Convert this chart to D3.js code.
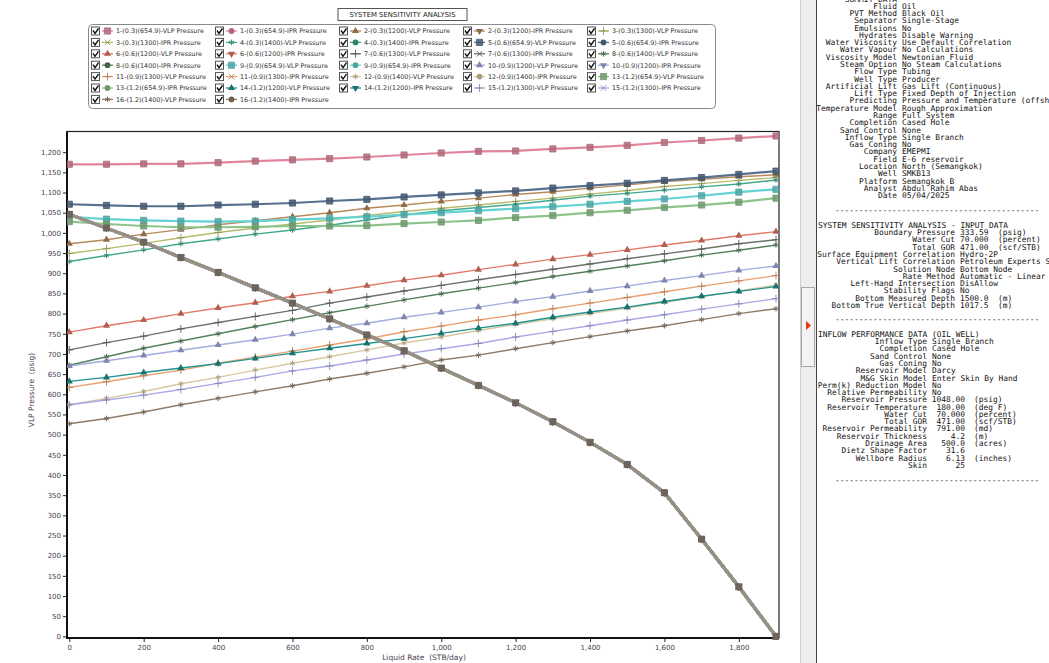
<!DOCTYPE html>
<html>
<head>
<meta charset="utf-8">
<script src="https://cdn.jsdelivr.net/npm/d3@7"></script>
<style>
body { margin: 0; background: #fff; overflow: hidden; }
svg { display: block; }
text { font-family: "DejaVu Sans", Verdana, sans-serif; }
.mono { font-family: "DejaVu Sans Mono", monospace; font-size: 7.9px; fill: #111; white-space: pre; }
</style>
</head>
<body>
<div id="chart"></div>
<script>
'use strict';

// liquid rate (STB/day) - x values of every curve
var liquidRate = [0, 100, 200, 300, 400, 500, 600, 700, 800, 900, 1000, 1100, 1200, 1300, 1400, 1500, 1600, 1700, 1800, 1900];

// IPR pressure (psig), same for every case
var iprPressure = [1046, 1012, 977, 939, 902, 864, 826, 787, 747, 708, 665, 622, 579, 532, 481, 426, 356, 241, 123, 0];

// VLP pressure (psig) per case
var vlp1  = [1170, 1170, 1171, 1171, 1174, 1178, 1181, 1184, 1188, 1193, 1198, 1202, 1203, 1208, 1212, 1217, 1224, 1229, 1235, 1240];
var vlp2  = [973, 983, 997, 1008, 1020, 1030, 1040, 1050, 1061, 1069, 1078, 1086, 1095, 1102, 1111, 1119, 1127, 1133, 1139, 1144];
var vlp3  = [949, 961, 974, 988, 1001, 1012, 1022, 1032, 1043, 1053, 1061, 1069, 1078, 1086, 1096, 1105, 1115, 1122, 1130, 1137];
var vlp4  = [929, 944, 958, 973, 985, 997, 1007, 1019, 1032, 1045, 1055, 1063, 1071, 1081, 1091, 1098, 1106, 1114, 1121, 1131];
var vlp5  = [1071, 1068, 1066, 1066, 1069, 1071, 1074, 1079, 1083, 1089, 1094, 1099, 1104, 1111, 1117, 1123, 1130, 1137, 1145, 1153];
var vlp6  = [754, 770, 784, 800, 814, 827, 843, 855, 869, 883, 895, 909, 922, 935, 946, 958, 970, 981, 993, 1003];
var vlp7  = [710, 728, 744, 762, 778, 793, 808, 826, 841, 856, 870, 884, 897, 910, 923, 936, 948, 960, 973, 983];
var vlp8  = [672, 693, 714, 732, 750, 768, 785, 802, 818, 834, 849, 863, 877, 892, 905, 918, 931, 945, 957, 970];
var vlp9  = [1040, 1034, 1031, 1029, 1028, 1029, 1033, 1036, 1040, 1045, 1050, 1055, 1060, 1065, 1071, 1078, 1084, 1092, 1101, 1108];
var vlp10 = [670, 683, 696, 709, 722, 735, 749, 764, 776, 791, 803, 816, 830, 842, 856, 868, 882, 894, 907, 918];
var vlp11 = [617, 631, 646, 660, 677, 692, 707, 722, 737, 755, 769, 784, 797, 812, 826, 840, 854, 868, 881, 894];
var vlp12 = [574, 590, 607, 626, 642, 660, 677, 693, 710, 727, 742, 758, 773, 787, 800, 814, 828, 842, 856, 871];
var vlp13 = [1028, 1022, 1017, 1014, 1014, 1015, 1017, 1017, 1018, 1023, 1027, 1031, 1038, 1043, 1050, 1056, 1063, 1069, 1076, 1086];
var vlp14 = [632, 642, 654, 665, 676, 689, 702, 714, 726, 738, 751, 764, 776, 791, 804, 816, 830, 843, 855, 867];
var vlp15 = [574, 586, 598, 612, 627, 642, 658, 670, 685, 700, 713, 726, 742, 756, 770, 784, 797, 811, 824, 837];
var vlp16 = [527, 540, 556, 574, 590, 606, 621, 638, 652, 668, 685, 697, 713, 728, 743, 757, 770, 785, 800, 812];

var vlpSeries = [vlp1, vlp2, vlp3, vlp4, vlp5, vlp6, vlp7, vlp8, vlp9, vlp10, vlp11, vlp12, vlp13, vlp14, vlp15, vlp16];

// sensitivity variables of the 16 cases
var firstVariable  = ['0.3', '0.6', '0.9', '1.2'];
var secondVariable = ['654.9', '1200', '1300', '1400'];

var seriesColors = ['#e0859c', '#b8895a', '#b8bc6a', '#3fa88e', '#56708e', '#e27a68', '#6a7468', '#55805c',
                    '#62d2d2', '#a4acde', '#eba070', '#d8c8a0', '#8cc48c', '#22928f', '#aaaae6', '#8f7a66'];

var xTickValues = [0, 200, 400, 600, 800, 1000, 1200, 1400, 1600, 1800];
var yTickValues = [0, 50, 100, 150, 200, 250, 300, 350, 400, 450, 500, 550, 600, 650, 700, 750, 800, 850, 900, 950,
                   1000, 1050, 1100, 1150, 1200];

// right hand report panel
var summitRows = [
    ['Fluid', 'Oil'], ['PVT Method', 'Black Oil'], ['Separator', 'Single-Stage'], ['Emulsions', 'No'],
    ['Hydrates', 'Disable Warning'], ['Water Viscosity', 'Use Default Correlation'], ['Water Vapour', 'No Calculations'],
    ['Viscosity Model', 'Newtonian Fluid'], ['Steam Option', 'No Steam Calculations'], ['Flow Type', 'Tubing'],
    ['Well Type', 'Producer'], ['Artificial Lift', 'Gas Lift (Continuous)'], ['Lift Type', 'Fixed Depth of Injection'],
    ['Predicting', 'Pressure and Temperature (offsh'], ['Temperature Model', 'Rough Approximation'],
    ['Range', 'Full System'], ['Completion', 'Cased Hole'], ['Sand Control', 'None'], ['Inflow Type', 'Single Branch'],
    ['Gas Coning', 'No'], ['Company', 'EMEPMI'], ['Field', 'E-6 reservoir'], ['Location', 'North (Semangkok)'],
    ['Well', 'SMKB13'], ['Platform', 'Semangkok B'], ['Analyst', 'Abdul Rahim Abas'], ['Date', '05/04/2025']
];
var inputRows = [
    ['Boundary Pressure', '333.59', '(psig)'], ['Water Cut', '70.000', '(percent)'], ['Total GOR', '471.00', '(scf/STB)'],
    ['Surface Equipment Correlation', 'Hydro-2P', ''], ['Vertical Lift Correlation', 'Petroleum Experts S', ''],
    ['Solution Node', 'Bottom Node', ''], ['Rate Method', 'Automatic - Linear', ''],
    ['Left-Hand Intersection', 'DisAllow', ''], ['Stability Flags', 'No', ''],
    ['Bottom Measured Depth', '1500.0', '(m)'], ['Bottom True Vertical Depth', '1017.5', '(m)']
];
var inflowRows = [
    ['Inflow Type', 'Single Branch', ''], ['Completion', 'Cased Hole', ''], ['Sand Control', 'None', ''],
    ['Gas Coning', 'No', ''], ['Reservoir Model', 'Darcy', ''], ['M&G Skin Model', 'Enter Skin By Hand', ''],
    ['Perm(k) Reduction Model', 'No', ''], ['Relative Permeability', 'No', ''],
    ['Reservoir Pressure', '1048.00', '(psig)'], ['Reservoir Temperature', '180.00', '(deg F)'],
    ['Water Cut', '70.000', '(percent)'], ['Total GOR', '471.00', '(scf/STB)'],
    ['Reservoir Permeability', '791.00', '(md)'], ['Reservoir Thickness', '4.2', '(m)'],
    ['Drainage Area', '500.0', '(acres)'], ['Dietz Shape Factor', '31.6', ''],
    ['Wellbore Radius', '6.13', '(inches)'], ['Skin', '25', '']
];

function sensitivityChart()
{
    var scope = this;
    var exports = {};

    scope.width  = 1049;
    scope.height = 663;
    scope.frame  = {left: 67, top: 131.5, right: 779, bottom: 638};

    scope.xScale = d3.scaleLinear().domain([0, 1900]).range([69.3, 776]);
    scope.yScale = d3.scaleLinear().domain([0, 1250]).range([636.4, 132]);

    scope.vlpShapes = ['square', 'triangle', 'plus', 'asterisk'];
    scope.iprShapes = ['circle', 'triangleDown', 'times', 'circle'];

    scope.cases = [];

    scope.buildCases = function()
    {
        for (var i = 0; i < vlpSeries.length; i++) {
            var a = firstVariable[Math.floor(i / 4)];
            var b = secondVariable[i % 4];
            scope.cases.push({
                id: i + 1,
                name: (i + 1) + '-(' + a + ')(' + b + ')',
                color: seriesColors[i],
                vlp: vlpSeries[i],
                vlpShape: scope.vlpShapes[i % 4],
                iprShape: scope.iprShapes[i % 4],
                thick: (i % 4) == 0
            });
        }
    }

    scope.drawMarker = function(g, shape, x, y, color)
    {
        var dark = d3.color(color).darker(0.7).formatHex();
        var p;
        if (shape == 'square') {
            p = g.append('path').attr('d', d3.symbol(d3.symbolSquare, 38)())
                .style('fill', dark).style('fill-opacity', 0.85).style('stroke', dark).style('stroke-width', 0.8);
        } else if (shape == 'triangle' || shape == 'triangleDown') {
            p = g.append('path').attr('d', d3.symbol(d3.symbolTriangle, 22)())
                .style('fill', dark).style('stroke', 'none');
        } else if (shape == 'circle') {
            p = g.append('path').attr('d', d3.symbol(d3.symbolCircle, 26)())
                .style('fill', dark).style('stroke', 'none');
        } else {
            var sym = shape == 'plus' ? d3.symbolPlus : (shape == 'times' ? d3.symbolTimes : d3.symbolAsterisk);
            p = g.append('path').attr('d', d3.symbol(sym, 22)())
                .style('fill', 'none').style('stroke', dark).style('stroke-width', 0.9);
        }
        var t = 'translate(' + x + ',' + y + ')';
        if (shape == 'triangleDown') t += ' rotate(180)';
        p.attr('transform', t);
    }

    scope.appendSvg = function(div)
    {
        return d3.select(div).append('svg')
            .attr('width', scope.width)
            .attr('height', scope.height)
            .style('background', '#fff');
    }

    scope.drawTitle = function(svg)
    {
        svg.append('rect').attr('x', 338).attr('y', 8.5).attr('width', 129).attr('height', 12)
            .style('fill', '#fff').style('stroke', '#555').style('stroke-width', 1);
        svg.append('text').attr('x', 402.5).attr('y', 17.2)
            .style('font-size', '6.9px').style('fill', '#222').style('text-anchor', 'middle')
            .text('SYSTEM SENSITIVITY ANALYSIS');
    }

    scope.drawLegend = function(svg)
    {
        svg.append('rect').attr('x', 88.5).attr('y', 24.5).attr('width', 627).attr('height', 84).attr('rx', 4)
            .style('fill', '#fff').style('stroke', '#8a8a8a').style('stroke-width', 1);

        var entries = [];
        scope.cases.forEach(function(c) {
            entries.push({c: c, label: c.name + '-VLP Pressure', shape: c.vlpShape});
            entries.push({c: c, label: c.name + '-IPR Pressure', shape: c.iprShape});
        });

        entries.forEach(function(e, k) {
            var x = 91 + (k % 5) * 124;
            var y = 31 + Math.floor(k / 5) * 11.4;
            var g = svg.append('g');
            g.append('rect').attr('x', x + 0.5).attr('y', y - 4).attr('width', 8).attr('height', 8)
                .style('fill', '#fff').style('stroke', '#555').style('stroke-width', 1);
            g.append('path').attr('d', 'M' + (x + 2) + ',' + (y - 0.5) + ' L' + (x + 4) + ',' + (y + 2.5) + ' L' + (x + 7.5) + ',' + (y - 2.5))
                .style('fill', 'none').style('stroke', '#111').style('stroke-width', 1.4);
            g.append('line').attr('x1', x + 11).attr('x2', x + 22).attr('y1', y).attr('y2', y)
                .style('stroke', e.c.color).style('stroke-width', 1.3);
            scope.drawMarker(g, e.shape, x + 16.5, y, e.c.color);
            g.append('text').attr('x', x + 25).attr('y', y + 2.3)
                .style('font-size', '6.4px').style('fill', '#333').text(e.label);
        });
    }

    scope.drawAxes = function(svg)
    {
        var f = scope.frame;
        svg.append('rect').attr('x', f.left).attr('y', f.top)
            .attr('width', f.right - f.left).attr('height', f.bottom - f.top)
            .style('fill', '#fff').style('stroke', '#222').style('stroke-width', 1.2);

        var yAxis = d3.axisLeft(scope.yScale).tickValues(yTickValues).tickFormat(d3.format(','))
            .tickSize(4).tickPadding(2).tickSizeOuter(0);
        var yg = svg.append('g').attr('transform', 'translate(' + f.left + ',0)').call(yAxis);

        var xAxis = d3.axisBottom(scope.xScale).tickValues(xTickValues).tickFormat(d3.format(','))
            .tickSize(4).tickPadding(3).tickSizeOuter(0);
        var xg = svg.append('g').attr('transform', 'translate(0,' + f.bottom + ')').call(xAxis);

        [xg, yg].forEach(function(g) {
            g.select('.domain').remove();
            g.selectAll('.tick line').style('stroke', '#222');
            g.selectAll('.tick text').style('font-size', '7px').style('fill', '#4a4050')
                .style('font-family', '"DejaVu Sans", Verdana, sans-serif');
        });

        svg.append('line').attr('x1', f.left).attr('x2', f.left).attr('y1', f.top).attr('y2', f.bottom + 1)
            .style('stroke', '#111').style('stroke-width', 2);
        svg.append('line').attr('x1', f.left - 1).attr('x2', f.right).attr('y1', f.bottom).attr('y2', f.bottom)
            .style('stroke', '#111').style('stroke-width', 2);

        svg.append('text')
            .attr('transform', 'translate(34,390) rotate(-90)')
            .style('font-size', '7.5px').style('fill', '#4a4050').style('text-anchor', 'middle')
            .style('white-space', 'pre')
            .text('VLP Pressure  (psig)');

        svg.append('text').attr('x', 424).attr('y', 659.5)
            .style('font-size', '7.5px').style('fill', '#4a4050').style('text-anchor', 'middle')
            .style('white-space', 'pre')
            .text('Liquid Rate  (STB/day)');
    }

    scope.drawCurves = function(svg)
    {
        var f = scope.frame;
        svg.append('clipPath').attr('id', 'plotClip').append('rect')
            .attr('x', f.left).attr('y', f.top).attr('width', f.right - f.left).attr('height', f.bottom - f.top + 2);

        var plot = svg.append('g').attr('clip-path', 'url(#plotClip)');
        var line = d3.line()
            .x(function(d, i) { return scope.xScale(liquidRate[i]); })
            .y(function(d) { return scope.yScale(d); });

        scope.cases.forEach(function(c) {
            // VLP curve
            plot.append('path').datum(c.vlp).attr('d', line)
                .style('fill', 'none').style('stroke', c.color).style('stroke-width', c.thick ? 2.2 : 1.4);
            var mg = plot.append('g');
            c.vlp.forEach(function(v, i) {
                scope.drawMarker(mg, c.vlpShape, scope.xScale(liquidRate[i]), scope.yScale(v), c.color);
            });

            // IPR curve (identical for every case, drawn on top of each other)
            plot.append('path').datum(iprPressure).attr('d', line)
                .style('fill', 'none').style('stroke', c.id == 16 ? '#9c8e7e' : c.color).style('stroke-width', 3);
            var ig = plot.append('g');
            iprPressure.forEach(function(v, i) {
                scope.drawMarker(ig, c.iprShape, scope.xScale(liquidRate[i]), scope.yScale(v), '#8a8078');
            });
        });

        // square markers on the IPR as they appear after overlaying all cases
        var top = plot.append('g');
        iprPressure.forEach(function(v, i) {
            scope.drawMarker(top, 'square', scope.xScale(liquidRate[i]), scope.yScale(v), '#8a8078');
        });
    }

    scope.drawReport = function(svg)
    {
        // splitter between chart and report
        svg.append('rect').attr('x', 800).attr('y', 0).attr('width', 16).attr('height', scope.height)
            .style('fill', '#ededed');
        svg.append('line').attr('x1', 800.5).attr('x2', 800.5).attr('y1', 0).attr('y2', scope.height)
            .style('stroke', '#cfcfcf');
        svg.append('rect').attr('x', 801.5).attr('y', 287.5).attr('width', 13).attr('height', 79)
            .style('fill', '#f3f3f3').style('stroke', '#a8a8a8');
        svg.append('path').attr('d', 'M806,321 L811,325.5 L806,330 Z').style('fill', '#e4380f');
        svg.append('rect').attr('x', 817).attr('y', 0).attr('width', 232).attr('height', scope.height)
            .style('fill', '#fff');
        svg.append('line').attr('x1', 816.5).attr('x2', 816.5).attr('y1', 0).attr('y2', scope.height)
            .style('stroke', '#444').style('stroke-width', 1);

        var rep = svg.append('g');
        var lh = 7.28;
        var dashes = '-------------------------------------------';

        rep.append('text').attr('class', 'mono').attr('x', 897).attr('y', 1.5).style('text-anchor', 'end').text('SUMMIT DATA');

        summitRows.forEach(function(r, i) {
            var y = 8.8 + i * lh;
            rep.append('text').attr('class', 'mono').attr('x', 897).attr('y', y).style('text-anchor', 'end').text(r[0]);
            rep.append('text').attr('class', 'mono').attr('x', 902).attr('y', y).text(r[1]);
        });
        rep.append('text').attr('class', 'mono').attr('x', 835).attr('y', 213).text(dashes);

        rep.append('text').attr('class', 'mono').attr('x', 818).attr('y', 227.8).text('SYSTEM SENSITIVITY ANALYSIS - INPUT DATA');
        inputRows.forEach(function(r, i) {
            var y = 235.1 + i * lh;
            rep.append('text').attr('class', 'mono').attr('x', 955).attr('y', y).style('text-anchor', 'end').text(r[0]);
            rep.append('text').attr('class', 'mono').attr('x', 960).attr('y', y).text(r[1]);
            if (r[2]) rep.append('text').attr('class', 'mono').attr('x', 998).attr('y', y).text(r[2]);
        });
        rep.append('text').attr('class', 'mono').attr('x', 835).attr('y', 322).text(dashes);

        rep.append('text').attr('class', 'mono').attr('x', 818).attr('y', 336.8).text('INFLOW PERFORMANCE DATA (OIL WELL)');
        inflowRows.forEach(function(r, i) {
            var y = 344.1 + i * lh;
            rep.append('text').attr('class', 'mono').attr('x', 927).attr('y', y).style('text-anchor', 'end').text(r[0]);
            if (/^[0-9.]+$/.test(r[1])) {
                rep.append('text').attr('class', 'mono').attr('x', 965).attr('y', y).style('text-anchor', 'end').text(r[1]);
            } else {
                rep.append('text').attr('class', 'mono').attr('x', 932).attr('y', y).text(r[1]);
            }
            if (r[2]) rep.append('text').attr('class', 'mono').attr('x', 974).attr('y', y).text(r[2]);
        });
        rep.append('text').attr('class', 'mono').attr('x', 835).attr('y', 483).text(dashes);
    }

    exports.run = function(div)
    {
        scope.buildCases();
        var svg = scope.appendSvg(div);
        scope.drawTitle(svg);
        scope.drawLegend(svg);
        scope.drawAxes(svg);
        scope.drawCurves(svg);
        scope.drawReport(svg);
    }

    return exports;
}

var chart = new sensitivityChart();
chart.run('#chart');
</script>
</body>
</html>
